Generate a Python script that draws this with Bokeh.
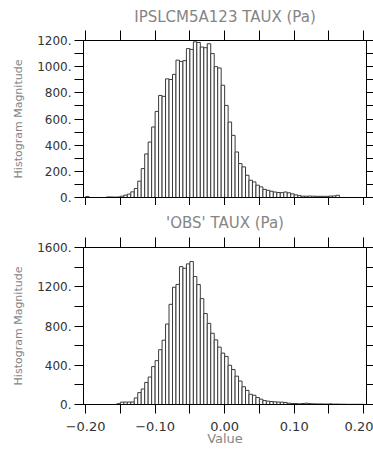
import numpy as np
from bokeh.plotting import figure
from bokeh.layouts import column
from bokeh.models import (FixedTicker, CustomJSTickFormatter, LinearAxis, Range1d,
                          ColumnDataSource)
from bokeh.embed import file_html
from bokeh.resources import INLINE

# ---------------- data ----------------
BIN_START = -0.2
BIN_WIDTH = 0.005

model_counts = [7, 0, 0, 0, 0, 0, 4, 4, 3, 4,
                10, 18, 26, 43, 69, 125, 221, 333, 424, 539,
                658, 780, 773, 907, 902, 941, 1050, 1040, 1046, 1138,
                1132, 1190, 1185, 1150, 1145, 1175, 1100, 1000, 990, 858,
                704, 577, 475, 348, 259, 234, 170, 132, 119, 94,
                81, 62, 55, 48, 42, 38, 37, 42, 36, 28,
                20, 14, 10, 10, 11, 10, 9, 9, 9, 9,
                11, 12, 17, 0, 0, 0, 0, 0, 0, 0]

obs_counts = [0, 0, 0, 0, 0, 0, 0, 0, 0, 8,
              24, 25, 25, 26, 67, 121, 158, 225, 280, 386,
              447, 558, 655, 820, 1021, 1195, 1224, 1405, 1388, 1433,
              1457, 1304, 1222, 1079, 927, 827, 726, 659, 585, 524,
              490, 400, 356, 289, 239, 181, 144, 104, 94, 71,
              54, 40, 34, 30, 27, 25, 24, 20, 13, 10,
              10, 7, 10, 13, 9, 7, 6, 6, 5, 5,
              6, 4, 4, 3, 3, 2, 2, 2, 2, 2]

titles = ["IPSLCM5A123 TAUX (Pa)", "'OBS' TAUX (Pa)"]
x_label = "Value"
y_label = "Histogram Magnitude"

x_major = [-0.2, -0.1, 0.0, 0.1, 0.2]
x_minor = [-0.15, -0.05, 0.05, 0.15]
model_y_major = [0, 200, 400, 600, 800, 1000, 1200]
model_y_minor = [100, 300, 500, 700, 900, 1100]
obs_y_major = [0, 400, 800, 1200, 1600]
obs_y_minor = [200, 600, 1000, 1400]

# ---------------- styling ----------------
FONT = "DejaVu Sans"
GRAY = "#858585"
TICKCOL = "#333333"

yfmt_code = "return tick.toFixed(0) + '.';"
xfmt_code = ("const s = Math.abs(tick).toFixed(2);"
             "return (tick < -1e-9 ? '\\u2212' : '') + s;")


def blank_axis(ticker, tick_out):
    return LinearAxis(ticker=ticker, major_label_text_font_size="0px",
                      major_label_text_color=None,
                      major_label_standoff=0, major_tick_out=tick_out,
                      minor_tick_out=tick_out, major_tick_in=0, minor_tick_in=0,
                      axis_line_color="black", major_tick_line_color="black",
                      minor_tick_line_color="black")


def make_panel(counts, title, ymax, ymajor, yminor, height, btop, bbot,
               title_standoff, show_x):
    p = figure(width=373, height=height,
               x_range=Range1d(-0.203, 0.204), y_range=Range1d(0, ymax),
               x_axis_type=None, y_axis_type=None,
               output_backend="svg", toolbar_location=None,
               min_border_left=83, min_border_right=7,
               min_border_top=btop, min_border_bottom=bbot)
    p.background_fill_color = "white"
    p.border_fill_color = "white"
    p.outline_line_color = "black"
    p.grid.visible = False

    p.title.text = title
    p.title.align = "center"
    p.title.text_font = FONT
    p.title.text_font_size = "15px"
    p.title.text_font_style = "normal"
    p.title.text_color = GRAY
    p.title.standoff = title_standoff

    left = BIN_START + BIN_WIDTH * np.arange(len(counts))
    src = ColumnDataSource(dict(left=left, right=left + BIN_WIDTH,
                                top=np.array(counts, dtype=float)))
    p.quad(left="left", right="right", bottom=0, top="top", source=src,
           fill_color="white", line_color="#3a3a3a", line_width=1)

    yt = FixedTicker(ticks=ymajor, minor_ticks=yminor)
    xt = FixedTicker(ticks=x_major, minor_ticks=x_minor)

    yax = LinearAxis(ticker=yt, formatter=CustomJSTickFormatter(code=yfmt_code),
                     axis_label=y_label, axis_label_text_font=FONT,
                     axis_label_text_font_size="11px",
                     axis_label_text_font_style="normal",
                     axis_label_text_color=GRAY, axis_label_standoff=9,
                     major_label_text_font=FONT, major_label_text_font_size="12px",
                     major_label_text_color=TICKCOL, major_label_standoff=3,
                     major_tick_out=9, minor_tick_out=9, major_tick_in=0,
                     minor_tick_in=0, axis_line_color="black")
    p.add_layout(yax, "left")
    p.add_layout(blank_axis(FixedTicker(ticks=ymajor, minor_ticks=yminor), 7), "right")
    p.add_layout(blank_axis(FixedTicker(ticks=x_major, minor_ticks=x_minor), 10), "above")

    if show_x:
        xax = LinearAxis(ticker=xt, formatter=CustomJSTickFormatter(code=xfmt_code),
                         axis_label=x_label, axis_label_text_font=FONT,
                         axis_label_text_font_size="13px",
                         axis_label_text_font_style="normal",
                         axis_label_text_color=GRAY, axis_label_standoff=-3,
                         major_label_text_font=FONT, major_label_text_font_size="13px",
                         major_label_text_color=TICKCOL, major_label_standoff=8,
                         major_tick_out=9, minor_tick_out=9, major_tick_in=0,
                         minor_tick_in=0, axis_line_color="black")
        p.add_layout(xax, "below")
    else:
        p.add_layout(blank_axis(xt, 8), "below")
    return p


p1 = make_panel(model_counts, titles[0], 1200, model_y_major, model_y_minor,
                height=205, btop=40, bbot=8, title_standoff=9, show_x=False)
p2 = make_panel(obs_counts, titles[1], 1600, obs_y_major, obs_y_minor,
                height=249, btop=40, bbot=50, title_standoff=12, show_x=True)

layout = column(p1, p2)
open("out.html", "w").write(file_html(layout, INLINE))
